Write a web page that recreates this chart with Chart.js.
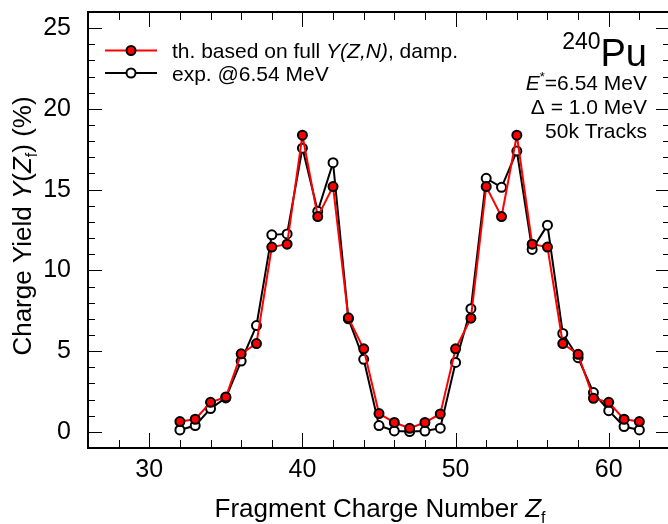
<!DOCTYPE html>
<html lang="en">
<head>
<meta charset="UTF-8">
<title>Charge Yield 240Pu</title>
<script src="https://cdn.jsdelivr.net/npm/chart.js"></script>
<style>
  html, body { margin: 0; padding: 0; background: #fff; overflow: hidden; }
</style>
</head>
<body>
<canvas id="chart" width="680" height="524"></canvas>
<script>
// fragment charge number Z_f
const charges = [32, 33, 34, 35, 36, 37, 38, 39, 40, 41, 42, 43, 44, 45, 46, 47,
                 48, 49, 50, 51, 52, 53, 54, 55, 56, 57, 58, 59, 60, 61, 62];
// theory (full Y(Z,N), damp.) in %
const theoryYield = [0.64, 0.78, 1.83, 2.16, 4.83, 5.47, 11.44, 11.62, 18.37, 13.33, 15.19, 7.06, 5.14, 1.13, 0.58, 0.22,
                     0.58, 1.11, 5.14, 7.04, 15.19, 13.33, 18.37, 11.62, 11.44, 5.47, 4.80, 2.08, 1.83, 0.78, 0.64];
// experiment @6.54 MeV in %
const expYield = [0.12, 0.39, 1.44, 2.10, 4.38, 6.58, 12.20, 12.26, 17.57, 13.66, 16.67, 7.00, 4.49, 0.39, 0.06, 0.02,
                  0.05, 0.23, 4.30, 7.63, 15.70, 15.14, 17.39, 11.30, 12.80, 6.09, 4.59, 2.43, 1.31, 0.33, 0.12];
const xTicks = [30, 40, 50, 60];
const yTicks = [0, 5, 10, 15, 20, 25];

const FAMILY = '"Liberation Sans", Arial, Helvetica, sans-serif';
Chart.defaults.font.family = FAMILY;
Chart.defaults.color = '#000';

function font(size, italic) {
    return (italic ? 'italic ' : '') + size + 'px ' + FAMILY;
}

// draw a line of text made of several styled pieces
function drawRich(ctx, parts, x, y, align) {
    let w = 0;
    for (const p of parts) {
        ctx.font = font(p.size, p.italic);
        w += ctx.measureText(p.text).width;
    }
    let cx = align === 'right' ? x - w : (align === 'center' ? x - w / 2 : x);
    ctx.textAlign = 'left';
    ctx.textBaseline = 'alphabetic';
    for (const p of parts) {
        ctx.font = font(p.size, p.italic);
        ctx.fillText(p.text, cx, y + (p.dy || 0));
        cx += ctx.measureText(p.text).width;
    }
}

// frame with inward ticks on all four sides
const framePlugin = {
    id: 'frame',
    beforeDatasetsDraw(chart) {
        const ctx = chart.ctx;
        const xs = chart.scales.x, ys = chart.scales.y;
        const { left, right, top, bottom } = chart.chartArea;
        ctx.save();
        ctx.strokeStyle = '#000';
        ctx.lineWidth = 1;
        ctx.beginPath();
        for (let v = 26; v <= 64; v += 2) {
            const px = Math.round(xs.getPixelForValue(v)) + 0.5;
            const len = v % 10 === 0 ? 15 : 8;
            ctx.moveTo(px, bottom); ctx.lineTo(px, bottom - len);
            ctx.moveTo(px, top); ctx.lineTo(px, top + len);
        }
        for (let v = -1; v <= 26; v++) {
            const py = Math.round(ys.getPixelForValue(v)) + 0.5;
            const len = v % 5 === 0 ? 14 : 7;
            ctx.moveTo(left, py); ctx.lineTo(left + len, py);
            ctx.moveTo(right, py); ctx.lineTo(right - len, py);
        }
        ctx.stroke();
        ctx.lineWidth = 2;
        ctx.strokeRect(left, top, right - left, bottom - top);
        ctx.restore();
    },
    afterDraw(chart) {
        const ctx = chart.ctx;
        ctx.save();
        ctx.fillStyle = '#000';

        // axis titles
        drawRich(ctx, [
            { text: 'Fragment Charge Number ', size: 26 },
            { text: 'Z', size: 26, italic: true },
            { text: 'f', size: 16, dy: 6 }
        ], 380, 517, 'center');

        ctx.save();
        ctx.translate(31, 226);
        ctx.rotate(-Math.PI / 2);
        drawRich(ctx, [
            { text: 'Charge Yield ', size: 26 },
            { text: 'Y', size: 26, italic: true },
            { text: '(', size: 26 },
            { text: 'Z', size: 26, italic: true },
            { text: 'f', size: 16, dy: 6 },
            { text: ') (%)', size: 26 }
        ], 0, 0, 'center');
        ctx.restore();

        // legend
        const rows = [
            { y: 50.5, line: 'red', fill: 'red', parts: [
                { text: 'th. based on full ', size: 21 },
                { text: 'Y(Z,N)', size: 21, italic: true },
                { text: ', damp.', size: 21 }] },
            { y: 73, line: '#000', fill: '#fff', parts: [
                { text: 'exp. @6.54 MeV', size: 21 }] }
        ];
        for (const r of rows) {
            ctx.strokeStyle = r.line;
            ctx.lineWidth = 2;
            ctx.beginPath();
            ctx.moveTo(105, r.y); ctx.lineTo(157, r.y);
            ctx.stroke();
            ctx.beginPath();
            ctx.arc(131, r.y, 4.5, 0, Math.PI * 2);
            ctx.fillStyle = r.fill;
            ctx.fill();
            ctx.strokeStyle = '#000';
            ctx.stroke();
            ctx.fillStyle = '#000';
            drawRich(ctx, r.parts, 172, r.y + 7.5, 'left');
        }

        // nucleus / run info
        drawRich(ctx, [
            { text: '240', size: 23, dy: -17 },
            { text: 'Pu', size: 38 }
        ], 647, 66, 'right');
        drawRich(ctx, [
            { text: 'E', size: 21, italic: true },
            { text: '*', size: 13, dy: -9 },
            { text: '=6.54 MeV', size: 21 }
        ], 647, 90, 'right');
        drawRich(ctx, [{ text: '\u0394 = 1.0 MeV', size: 21 }], 647, 114, 'right');
        drawRich(ctx, [{ text: '50k Tracks', size: 21 }], 647, 138, 'right');
        ctx.restore();
    }
};

const toPoints = vals => charges.map((z, i) => ({ x: z, y: vals[i] }));

new Chart(document.getElementById('chart'), {
    type: 'line',
    data: {
        datasets: [
            {
                label: 'th. based on full Y(Z,N), damp.',
                data: toPoints(theoryYield),
                borderColor: 'red',
                borderWidth: 2,
                pointBackgroundColor: 'red',
                pointBorderColor: '#000',
                pointBorderWidth: 2,
                pointRadius: 4.5,
                tension: 0
            },
            {
                label: 'exp. @6.54 MeV',
                data: toPoints(expYield),
                borderColor: '#000',
                borderWidth: 2,
                pointBackgroundColor: '#fff',
                pointBorderColor: '#000',
                pointBorderWidth: 2,
                pointRadius: 4.5,
                tension: 0
            }
        ]
    },
    options: {
        responsive: false,
        animation: false,
        layout: { padding: { top: 12, right: 10, left: 0, bottom: 0 } },
        plugins: { legend: { display: false }, tooltip: { enabled: false } },
        scales: {
            x: {
                type: 'linear',
                min: 26,
                max: 64,
                grid: { display: false, drawTicks: false },
                border: { display: false },
                ticks: { font: { size: 25 }, padding: 7, maxRotation: 0 },
                afterBuildTicks: s => { s.ticks = xTicks.map(v => ({ value: v })); },
                afterFit: s => { s.height = 76; s.paddingLeft = 0; s.paddingRight = 0; }
            },
            y: {
                min: -1,
                max: 26,
                grid: { display: false, drawTicks: false },
                border: { display: false },
                ticks: { font: { size: 25 }, padding: 17 },
                afterBuildTicks: s => { s.ticks = yTicks.map(v => ({ value: v })); },
                afterFit: s => { s.width = 88; s.paddingTop = 0; s.paddingBottom = 0; }
            }
        }
    },
    plugins: [framePlugin]
});
</script>
</body>
</html>
